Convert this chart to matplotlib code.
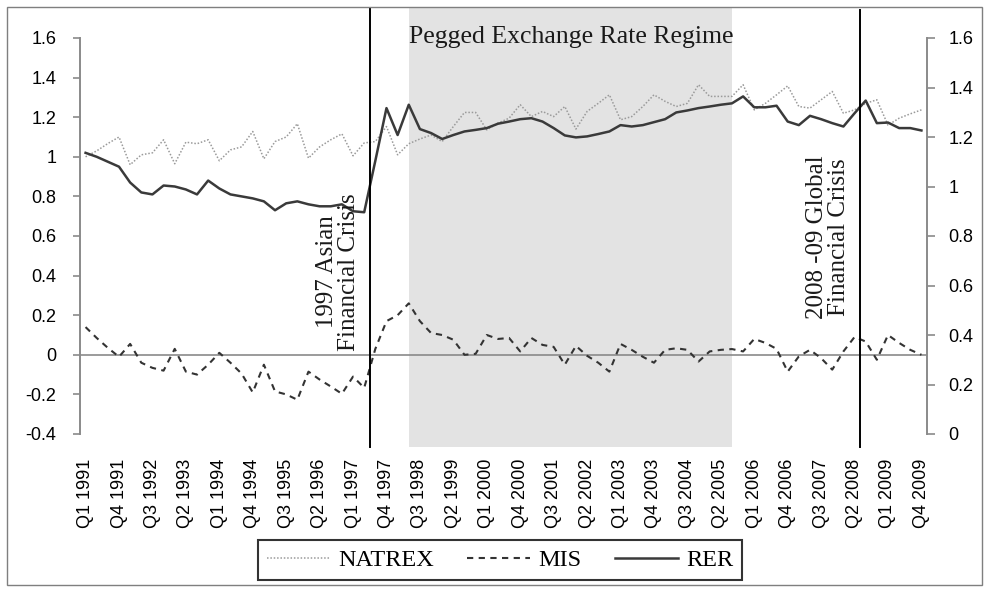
import matplotlib
matplotlib.use("Agg")
import matplotlib.pyplot as plt
import matplotlib.patches as mpatches
import matplotlib.transforms as mtransforms
import numpy as np

# ---------------- data ----------------
years = list(range(1991, 2010))
quarters = [f"Q{q} {y}" for y in years for q in (1, 2, 3, 4)]

natrex = [1.00, 1.03, 1.067, 1.10, 0.96, 1.01, 1.02, 1.086, 0.965, 1.074,
          1.066, 1.086, 0.98, 1.035, 1.05, 1.128, 0.99, 1.077, 1.10, 1.167,
          0.993, 1.05, 1.086, 1.116, 1.005, 1.07, 1.077, 1.153, 1.01, 1.066,
          1.09, 1.11, 1.077, 1.153, 1.224, 1.224, 1.136, 1.17, 1.195, 1.263,
          1.203, 1.229, 1.203, 1.254, 1.14, 1.229, 1.27, 1.313, 1.187, 1.203,
          1.254, 1.313, 1.28, 1.254, 1.27, 1.364, 1.305, 1.305, 1.305, 1.364,
          1.237, 1.27, 1.313, 1.358, 1.254, 1.246, 1.288, 1.33, 1.22, 1.237,
          1.27, 1.288, 1.16, 1.195, 1.217, 1.237]

mis = [0.14, 0.085, 0.035, -0.01, 0.055, -0.04, -0.066, -0.08, 0.03, -0.085,
       -0.10, -0.05, 0.01, -0.04, -0.095, -0.19, -0.05, -0.185, -0.20, -0.227,
       -0.085, -0.125, -0.16, -0.197, -0.11, -0.167, 0.03, 0.17, 0.20, 0.26,
       0.17, 0.11, 0.10, 0.076, 0.0, 0.005, 0.10, 0.08, 0.085, 0.017,
       0.085, 0.05, 0.04, -0.05, 0.045, -0.005, -0.04, -0.085, 0.055, 0.025,
       -0.01, -0.04, 0.025, 0.033, 0.025, -0.034, 0.017, 0.025, 0.029, 0.017,
       0.08, 0.06, 0.03, -0.085, -0.008, 0.025, -0.017, -0.075, 0.017, 0.09,
       0.067, -0.025, 0.10, 0.06, 0.025, 0.0]

rer = [1.02, 1.00, 0.975, 0.95, 0.87, 0.82, 0.81, 0.855, 0.85, 0.835,
       0.81, 0.88, 0.84, 0.81, 0.80, 0.79, 0.775, 0.73, 0.765, 0.775,
       0.76, 0.75, 0.75, 0.76, 0.725, 0.72, 0.98, 1.246, 1.11, 1.263,
       1.14, 1.12, 1.09, 1.11, 1.128, 1.136, 1.145, 1.167, 1.178, 1.19,
       1.195, 1.178, 1.145, 1.108, 1.098, 1.103, 1.115, 1.128, 1.16, 1.153,
       1.16, 1.175, 1.19, 1.224, 1.234, 1.246, 1.254, 1.263, 1.27, 1.305,
       1.25, 1.25, 1.258, 1.178, 1.16, 1.207, 1.19, 1.17, 1.153, 1.22,
       1.284, 1.17, 1.173, 1.145, 1.145, 1.133]

left_ticks = [-0.4, -0.2, 0, 0.2, 0.4, 0.6, 0.8, 1, 1.2, 1.4, 1.6]
right_ticks = [0, 0.2, 0.4, 0.6, 0.8, 1, 1.2, 1.4, 1.6]

peg_start, peg_end = "Q2 1998", "Q3 2005"
crisis1_after, crisis2_after = "Q2 1997", "Q2 2008"

# ---------------- figure ----------------
W, H = 987, 590
fig = plt.figure(figsize=(W / 100, H / 100), dpi=100)
fig.patch.set_facecolor("white")

def fx(px):
    return px / W

def fy(py):
    return 1 - py / H

ax = fig.add_axes([fx(80), fy(434), fx(927) - fx(80), fy(38) - fy(434)])
ax.set_facecolor("none")
x = np.arange(len(quarters))

ax.set_xlim(-0.5, len(quarters) - 0.5)
ax.set_ylim(-0.4, 1.6)

gray = "#8a8a8a"
blend = mtransforms.blended_transform_factory(ax.transData, fig.transFigure)

# shaded pegged regime
i0 = quarters.index(peg_start)
i1 = quarters.index(peg_end)
shade = mpatches.Rectangle((i0, fy(447)), i1 - i0, fy(8) - fy(447),
                           transform=blend, facecolor="#e3e3e3",
                           edgecolor="none", clip_on=False, zorder=0)
ax.add_patch(shade)

# zero line (category axis)
ax.axhline(0, color=gray, lw=1.2, zorder=1)

# crisis lines
for q, top in ((crisis1_after, 8), (crisis2_after, 10)):
    xi = quarters.index(q) + 0.5
    ax.plot([xi, xi], [fy(447), fy(top)], transform=blend, color="black",
            lw=1.4, clip_on=False, zorder=4)

# series
l1, = ax.plot(x, natrex, color="#9a9a9a", lw=1.1, linestyle=(0, (1, 1.2)),
              zorder=3, label="NATREX")
l2, = ax.plot(x, mis, color="#333333", lw=1.5, linestyle=(0, (3, 2.6)),
              zorder=3, label="MIS")
l3, = ax.plot(x, rer, color="#3a3a3a", lw=1.8, zorder=3, label="RER")

# axes styling
for s in ("top", "bottom", "right"):
    ax.spines[s].set_visible(False)
ax.spines["left"].set_color(gray)
ax.spines["left"].set_linewidth(1.4)

ax.set_yticks(left_ticks)
ax.set_yticklabels([f"{v:g}" for v in left_ticks])
ax.tick_params(axis="y", direction="out", length=5, width=1.2, color=gray,
               pad=12, labelsize=13, labelcolor="black")
for t in ax.get_yticklabels():
    t.set_fontfamily("Liberation Sans")

ax.set_xticks(x[::3])
ax.set_xticklabels(quarters[::3], rotation=90, fontsize=13,
                   fontfamily="Liberation Sans")
ax.tick_params(axis="x", length=0, pad=18)

ax2 = ax.twinx()
ax2.set_ylim(0, 1.6)
for s in ("top", "bottom", "left"):
    ax2.spines[s].set_visible(False)
ax2.spines["right"].set_color(gray)
ax2.spines["right"].set_linewidth(1.4)
ax2.set_yticks(right_ticks)
ax2.set_yticklabels([f"{v:g}" for v in right_ticks])
ax2.tick_params(axis="y", direction="out", length=6, width=1.2, color=gray,
                pad=9.5, labelsize=13, labelcolor="black")
for t in ax2.get_yticklabels():
    t.set_fontfamily("Liberation Sans")

# annotations
fig.text(fx(571), fy(43), "Pegged Exchange Rate Regime", ha="center",
         va="baseline", fontsize=18.5, fontfamily="Liberation Serif",
         color="#1a1a1a")
fig.text(fx(338), fy(272), "1997 Asian\nFinancial Crisis", rotation=90,
         ha="center", va="center", multialignment="center", linespacing=0.95,
         fontsize=18, fontfamily="Liberation Serif", color="#1a1a1a")
fig.text(fx(828), fy(237), "2008 -09 Global\nFinancial Crisis", rotation=90,
         ha="center", va="center", multialignment="center", linespacing=0.95,
         fontsize=18, fontfamily="Liberation Serif", color="#1a1a1a")

# legend
leg = fig.legend([l1, l2, l3], ["NATREX", "MIS", "RER"], loc="center",
                 bbox_to_anchor=(fx(500), fy(560)), ncol=3, frameon=True,
                 fancybox=False, edgecolor="black",
                 prop={"family": "Liberation Serif", "size": 17.5},
                 handlelength=2.6, handletextpad=0.35, columnspacing=1.35,
                 borderpad=0.35)
leg.get_frame().set_linewidth(1.5)

# outer border
fig.patches.append(mpatches.Rectangle((fx(7), fy(585)), fx(982) - fx(7),
                                      fy(7) - fy(585), transform=fig.transFigure,
                                      fill=False, edgecolor="#7f7f7f", lw=1.0))

fig.savefig("out.png", dpi=100)
